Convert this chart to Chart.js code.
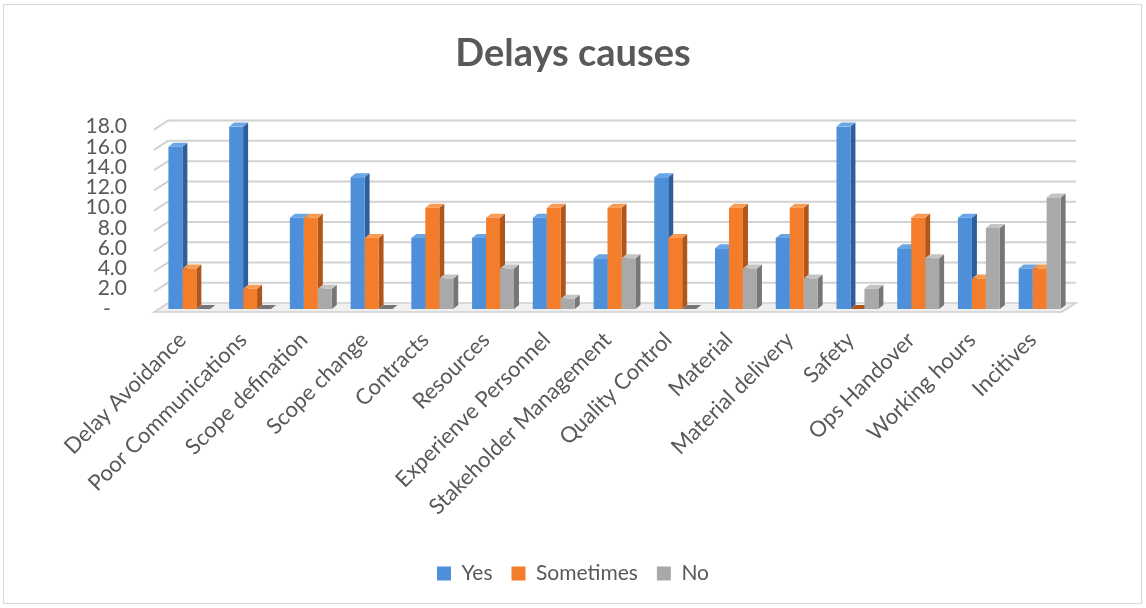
<!DOCTYPE html>
<html>
<head>
<meta charset="utf-8">
<script src="https://cdn.jsdelivr.net/npm/chart.js@4"></script>
<style>
  html, body { margin: 0; padding: 0; background: #fff; }
  #wrap { position: relative; width: 1146px; height: 608px; }
  #frame { position: absolute; left: 3px; top: 4px; width: 1137px; height: 598px; border: 1px solid #d9d9d9; pointer-events: none; }
</style>
</head>
<body>
<div id="wrap">
  <canvas id="chart" width="1146" height="608"></canvas>
  <div id="frame"></div>
</div>
<script>
const categories = ["Delay Avoidance", "Poor Communications", "Scope defination", "Scope change", "Contracts",
  "Resources", "Experienve Personnel", "Stakeholder Management", "Quality Control", "Material",
  "Material delivery", "Safety", "Ops Handover", "Working hours", "Incitives"];
const yesVals = [16, 18, 9, 13, 7, 7, 9, 5, 13, 6, 7, 18, 6, 9, 4];
const sometimesVals = [4, 2, 9, 7, 10, 9, 10, 10, 7, 10, 10, 0, 9, 3, 4];
const noVals = [0, 0, 2, 0, 3, 4, 1, 5, 0, 4, 3, 2, 5, 8, 11];
const yTicks = [0, 2, 4, 6, 8, 10, 12, 14, 16, 18];

const FRONT = ["#4d8fd8", "#f47d2c", "#a9a9a9"];
const TOPS = ["#6aa6e6", "#f89b55", "#c4c4c4"];
const SIDES = ["#2d5f9c", "#b0561b", "#767676"];
const TEXT = "#595959";
const FONT = "Lato";

// fake 3D: back-wall gridlines, floor, and the top/side faces of every bar
const depth3d = {
  id: "depth3d",
  beforeDatasetsDraw(chart) {
    const ctx = chart.ctx;
    const y = chart.scales.y;
    const area = chart.chartArea;
    const fx = area.left - 5;
    ctx.save();

    // floor
    const y0 = y.getPixelForValue(0);
    ctx.beginPath();
    ctx.moveTo(fx, y0 + 3);
    ctx.lineTo(area.right - 8, y0 + 3);
    ctx.lineTo(area.right + 6, y0 - 6);
    ctx.lineTo(fx + 14, y0 - 6);
    ctx.closePath();
    ctx.fillStyle = "#f0f0f0";
    ctx.fill();
    ctx.strokeStyle = "#cfcfcf";
    ctx.lineWidth = 1.5;
    ctx.stroke();

    ctx.lineWidth = 2;
    ctx.strokeStyle = "#d2d2d2";
    yTicks.forEach(v => {
      if (v === 0) return;
      const py = y.getPixelForValue(v);
      ctx.beginPath();
      ctx.moveTo(fx, py + 3);
      ctx.lineTo(fx + 14, py - 6);
      ctx.lineTo(area.right + 6, py - 6);
      ctx.stroke();
    });

    const dx = 5, dy = 4;
    const metas = chart.data.datasets.map((d, i) => chart.getDatasetMeta(i));
    // side faces first, then top faces, fronts come from the library
    metas.forEach((meta, di) => {
      meta.data.forEach(bar => {
        const r = bar.x + bar.width / 2;
        ctx.beginPath();
        ctx.moveTo(r, bar.y);
        ctx.lineTo(r + dx, bar.y - dy);
        ctx.lineTo(r + dx, bar.base - dy);
        ctx.lineTo(r, bar.base);
        ctx.closePath();
        ctx.fillStyle = SIDES[di];
        ctx.fill();
      });
    });
    metas.forEach((meta, di) => {
      meta.data.forEach(bar => {
        const l = bar.x - bar.width / 2;
        const r = bar.x + bar.width / 2;
        ctx.beginPath();
        ctx.moveTo(l, bar.y);
        ctx.lineTo(l + dx, bar.y - dy);
        ctx.lineTo(r + dx, bar.y - dy);
        ctx.lineTo(r, bar.y);
        ctx.closePath();
        ctx.fillStyle = bar.base - bar.y < 1 ? SIDES[di] : TOPS[di];
        ctx.fill();
      });
    });
    ctx.restore();
  }
};

new Chart(document.getElementById("chart"), {
  type: "bar",
  data: {
    labels: categories,
    datasets: [
      { label: "Yes", data: yesVals, backgroundColor: FRONT[0] },
      { label: "Sometimes", data: sometimesVals, backgroundColor: FRONT[1] },
      { label: "No", data: noVals, backgroundColor: FRONT[2] }
    ]
  },
  options: {
    responsive: false,
    animation: false,
    layout: { padding: { left: 0, right: 0, top: 0, bottom: 14 } },
    datasets: { bar: { barPercentage: 1, categoryPercentage: 0.69 } },
    plugins: {
      title: {
        display: true,
        text: "Delays causes",
        color: TEXT,
        font: { family: FONT, size: 38, weight: "bold" },
        padding: { top: 31, bottom: 50 }
      },
      legend: {
        position: "bottom",
        labels: {
          color: TEXT,
          font: { family: FONT, size: 21 },
          boxWidth: 14,
          boxHeight: 14,
          padding: 19
        }
      },
      tooltip: { enabled: false }
    },
    scales: {
      x: {
        grid: { display: false, drawTicks: false },
        border: { display: false },
        ticks: {
          autoSkip: false,
          maxRotation: 45,
          minRotation: 45,
          padding: 18,
          labelOffset: -7,
          color: TEXT,
          font: { family: FONT, size: 22 }
        },
        afterFit(scale) {
          const lg = scale.chart.legend;
          scale.height = 608 - 309 - 14 - (lg ? lg.height : 0);
        }
      },
      y: {
        min: 0,
        max: 18,
        grid: { display: false, drawTicks: false },
        border: { display: false },
        afterBuildTicks(scale) {
          scale.ticks = yTicks.map(v => ({ value: v }));
        },
        ticks: {
          autoSkip: false,
          padding: 32,
          color: TEXT,
          font: { family: FONT, size: 21 },
          callback: v => v === 0 ? "-   " : v.toFixed(1)
        },
        afterFit(scale) { scale.width = 159; }
      },
      // empty right-hand axis, only reserves the space right of the plot
      yRight: {
        position: "right",
        min: 0,
        max: 18,
        grid: { display: false, drawTicks: false },
        border: { display: false },
        ticks: { display: false },
        afterFit(scale) { scale.width = 76; }
      }
    }
  },
  plugins: [depth3d]
});
</script>
</body>
</html>
